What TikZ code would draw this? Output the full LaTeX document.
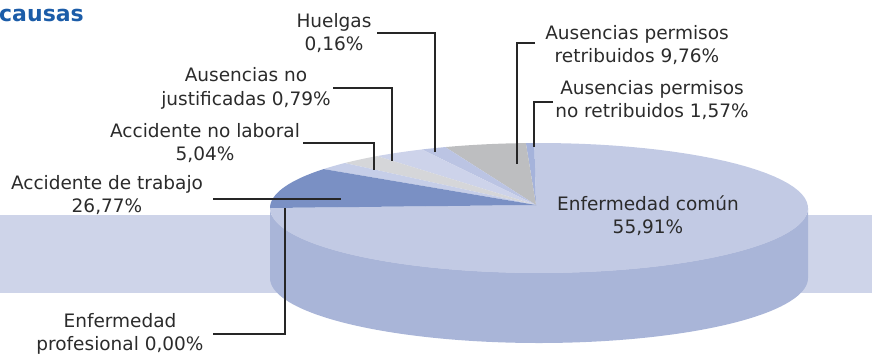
\documentclass[tikz,border=0pt]{standalone}
\usepackage{fontspec}
\setmainfont{DejaVu Sans}
\definecolor{txt}{HTML}{2B2B2B}
\definecolor{ldr}{HTML}{262626}
\definecolor{ttl}{HTML}{1B5CA8}
\definecolor{band}{HTML}{CED4E9}
\definecolor{topmain}{HTML}{C2CAE4}
\definecolor{sidec}{HTML}{A9B5D8}
\definecolor{darkb}{HTML}{7A90C4}
\definecolor{grayc}{HTML}{BDBEC0}
\definecolor{lgray}{HTML}{D5D6D9}
\definecolor{lblue}{HTML}{CDD3EA}
\definecolor{hblue}{HTML}{BBC4E3}
\definecolor{nrblue}{HTML}{A5B3DB}
\definecolor{tblue}{HTML}{C6CEE8}
\newcommand\mywedge[3]{\fill[#3] (536,205) -- plot[domain=#1:#2,samples=80] ({539+269*cos(\x)},{208-65*sin(\x)}) -- cycle;}
\newcommand\twolines[2]{\begin{tabular}[t]{@{}c@{}}#1\\#2\end{tabular}}
\begin{document}
\begin{tikzpicture}[x=1pt,y=-1pt,
  lbl/.style={text=txt, font=\fontsize{18.5}{23.5}\selectfont, inner sep=0pt, anchor=base},
  leader/.style={draw=ldr, line width=1.7pt},
]
\useasboundingbox (0,0) rectangle (872,354);
% background band
\fill[band] (0,215) rectangle (872,293);
% pie side
\fill[sidec] plot[domain=180:360,samples=120] ({539+269*cos(\x)},{208-65*sin(\x)})
  -- plot[domain=360:180,samples=120] ({539+269*cos(\x)},{278-65*sin(\x)}) -- cycle;
% pie top slices
\mywedge{-180}{91}{topmain}
\mywedge{91}{92.8}{nrblue}
\mywedge{92.8}{110.4}{grayc}
\mywedge{110.4}{115.8}{hblue}
\mywedge{115.8}{127}{lblue}
\mywedge{127}{136.2}{lgray}
\mywedge{136.2}{143.2}{tblue}
\mywedge{143.2}{180}{darkb}
% title
\node[text=ttl, font=\fontsize{22}{26}\selectfont\bfseries, inner sep=0pt, anchor=base west] (title) at (-1,21) {causas};
% labels
\node[lbl] (hu) at (334,27) {\twolines{Huelgas}{0,16\%}};
\node[lbl] (anj) at (246,81.5) {\twolines{Ausencias no}{justificadas 0,79\%}};
\node[lbl] (anl) at (205,137) {\twolines{Accidente no laboral}{5,04\%}};
\node[lbl] (at) at (107,189) {\twolines{Accidente de trabajo}{26,77\%}};
\node[lbl] (ep) at (120,327) {\twolines{Enfermedad}{profesional 0,00\%}};
\node[lbl] (apr) at (637,39) {\twolines{Ausencias permisos}{retribuidos 9,76\%}};
\node[lbl] (apnr) at (652,94) {\twolines{Ausencias permisos}{no retribuidos 1,57\%}};
\node[lbl] (ec) at (648,210) {\twolines{Enfermedad común}{55,91\%}};
% leader endpoints
\coordinate (hu1) at (377,33);   \coordinate (hu2) at (435,152);
\coordinate (anj1) at (333,88);  \coordinate (anj2) at (392,161);
\coordinate (anl1) at (303,143); \coordinate (anl2) at (374,170);
\coordinate (at1) at (213,199);  \coordinate (at2) at (341,199);
\coordinate (ep1) at (213,334);  \coordinate (ep2) at (285,208);
\coordinate (apr1) at (535,43);  \coordinate (apr2) at (517,164);
\coordinate (apnr1) at (553,102); \coordinate (apnr2) at (534,147);
% leaders
\draw[leader] (hu1) -| (hu2);
\draw[leader] (anj1) -| (anj2);
\draw[leader] (anl1) -| (anl2);
\draw[leader] (at1) -- (at2);
\draw[leader] (ep1) -| (ep2);
\draw[leader] (apr1) -| (apr2);
\draw[leader] (apnr1) -| (apnr2);
\end{tikzpicture}
\end{document}
